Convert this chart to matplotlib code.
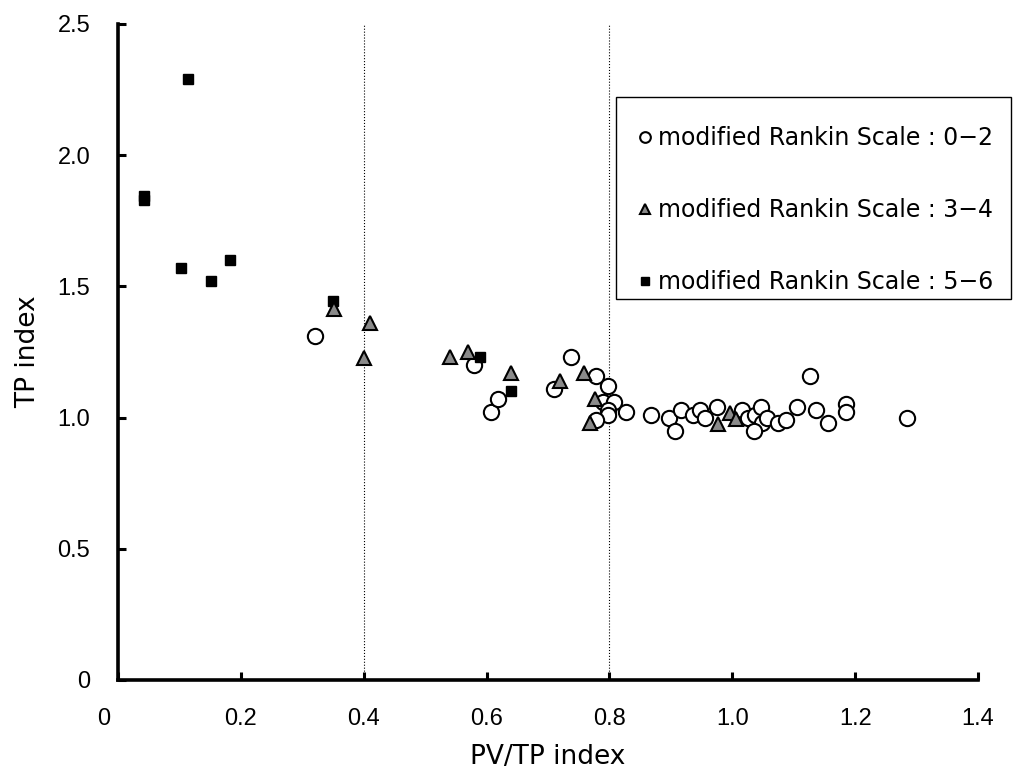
#! /usr/bin/env python3

import matplotlib as mpl
import matplotlib.pyplot as plt
import matplotlib.patches as patches
import matplotlib.transforms as mtransforms

mpl.rcParams['font.family'] = 'DejaVu Sans'
mpl.rcParams['xtick.direction'] = 'in'
mpl.rcParams['ytick.direction'] = 'in'

# modified Rankin Scale 0-2
mrs02_x = [0.321, 0.579, 0.608, 0.619, 0.709, 0.738, 0.778, 0.798, 0.790, 0.808,
           0.797, 0.827, 0.797, 0.778, 0.868, 0.897, 0.906, 0.917, 0.936, 0.947,
           0.956, 0.975, 1.016, 1.025, 1.037, 1.047, 1.048, 1.036, 1.057, 1.075,
           1.087, 1.106, 1.127, 1.136, 1.155, 1.185, 1.185, 1.284]
mrs02_y = [1.31, 1.20, 1.02, 1.07, 1.11, 1.23, 1.16, 1.12, 1.06, 1.06,
           1.03, 1.02, 1.01, 0.99, 1.01, 1.00, 0.95, 1.03, 1.01, 1.03,
           1.00, 1.04, 1.03, 1.00, 1.01, 1.04, 0.98, 0.95, 1.00, 0.98,
           0.99, 1.04, 1.16, 1.03, 0.98, 1.05, 1.02, 1.00]

# modified Rankin Scale 3-4
mrs34_x = [0.351, 0.411, 0.400, 0.540, 0.569, 0.639, 0.719, 0.758, 0.777, 0.769,
           0.976, 0.996, 1.006]
mrs34_y = [1.415, 1.36, 1.228, 1.23, 1.25, 1.17, 1.14, 1.17, 1.07, 0.98,
           0.975, 1.016, 0.995]

# modified Rankin Scale 5-6
mrs56_x = [0.043, 0.043, 0.114, 0.103, 0.152, 0.182, 0.350, 0.589, 0.639]
mrs56_y = [1.83, 1.845, 2.29, 1.57, 1.52, 1.60, 1.444, 1.23, 1.10]

cut_lines = [0.4, 0.8]

fig = plt.figure(figsize=[10.13, 7.72], dpi=100)
ax = fig.add_axes([118/1013, 1 - 680/772, 860/1013, 656/772])

for xv in cut_lines:
    ax.axvline(xv, color='k', linewidth=0.8, linestyle=':', zorder=1)

ax.plot(mrs02_x, mrs02_y, linestyle='none', marker='o', markersize=11,
        markerfacecolor='white', markeredgecolor='k', markeredgewidth=1.5,
        label='modified Rankin Scale : 0\u22122', zorder=3)
ax.plot(mrs56_x, mrs56_y, linestyle='none', marker='s', markersize=7.5,
        markerfacecolor='k', markeredgecolor='k',
        label='modified Rankin Scale : 5\u22126', zorder=4)
ax.plot(mrs34_x, mrs34_y, linestyle='none', marker='^', markersize=10,
        markerfacecolor='#8a8a8a', markeredgecolor='k', markeredgewidth=1.5,
        label='modified Rankin Scale : 3\u22124', zorder=5)

ax.set_xlim(0, 1.4)
ax.set_ylim(0, 2.5)

xt = [0, 0.2, 0.4, 0.6, 0.8, 1.0, 1.2, 1.4]
yt = [0, 0.5, 1.0, 1.5, 2.0, 2.5]
ax.set_xticks(xt)
ax.set_xticklabels(['0'] + ['{:.1f}'.format(v) for v in xt[1:]])
ax.set_yticks(yt)
ax.set_yticklabels(['0'] + ['{:.1f}'.format(v) for v in yt[1:]])
for lab in ax.get_xticklabels() + ax.get_yticklabels():
    lab.set_family('Liberation Sans')
    lab.set_fontsize(17)
ax.tick_params(length=6, width=2.2, pad=20)
# the "0" on the x axis sits a bit left of its tick
shift = mtransforms.ScaledTranslation(-14/100, 0, fig.dpi_scale_trans)
first = ax.get_xticklabels()[0]
first.set_transform(first.get_transform() + shift)

for s in ['top', 'right']:
    ax.spines[s].set_visible(False)
for s in ['left', 'bottom']:
    ax.spines[s].set_linewidth(2.6)

ax.set_xlabel('PV/TP index', fontsize=19, labelpad=10)
ax.set_ylabel('TP index', fontsize=19, labelpad=12)

box = patches.Rectangle((616/1013, 1 - 299/772), 395/1013, 202/772,
                        transform=fig.transFigure, facecolor='white',
                        edgecolor='k', linewidth=1.0, clip_on=False, zorder=4.5)
ax.add_patch(box)

h, l = ax.get_legend_handles_labels()
order = [0, 2, 1]
leg = ax.legend([h[i] for i in order], [l[i] for i in order],
                loc='upper left', bbox_to_anchor=(636/1013, 1 - 126/772),
                bbox_transform=fig.transFigure, borderaxespad=0,
                fontsize=17, markerscale=0.7, handlelength=0.8,
                handletextpad=0.15, borderpad=0, labelspacing=2.03,
                frameon=False)
leg.set_zorder(6)

plt.savefig('out.png', dpi=100)
